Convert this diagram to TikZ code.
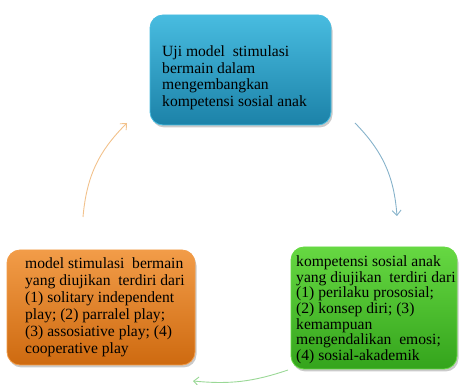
\documentclass[tikz,border=0pt]{standalone}
\usepackage{fontspec}
\setmainfont{Liberation Serif}
\newfontfamily\tnr{Liberation Serif}
\usetikzlibrary{shadows,arrows.meta,calc}
\definecolor{tealA}{HTML}{48BCE0}
\definecolor{tealB}{HTML}{2A9EC6}
\definecolor{tealC}{HTML}{1C82A8}
\definecolor{orA}{HTML}{F29C48}
\definecolor{orB}{HTML}{E8801C}
\definecolor{orC}{HTML}{CE6A10}
\definecolor{grA}{HTML}{66D842}
\definecolor{grB}{HTML}{44C228}
\definecolor{grC}{HTML}{34A41C}
\definecolor{arBlue}{HTML}{86B2CA}
\definecolor{arOrange}{HTML}{F2C28C}
\definecolor{arGreen}{HTML}{9AD896}
\begin{document}
\begin{tikzpicture}[x=1pt,y=-1pt,
  box/.style={rounded corners=13pt, inner sep=0pt,
    drop shadow={shadow xshift=1.5pt, shadow yshift=-2.5pt, opacity=0.35, fill=black!60}},
  tealbox/.style={box, top color=tealA, middle color=tealB, bottom color=tealC, draw=tealA, line width=0.8pt},
  orbox/.style={box, top color=orA, middle color=orB, bottom color=orC, draw=orA, line width=0.8pt},
  grbox/.style={box, top color=grA, middle color=grB, bottom color=grC, draw=grA, line width=0.8pt},
  txt/.style={anchor=north west, inner sep=0pt, align=left, text=black},
  cyc/.style={line width=0.9pt, -{Straight Barb[length=5pt,width=9pt]}}
]
\useasboundingbox (0,0) rectangle (459,385);

\node[tealbox, minimum width=181pt, minimum height=110pt] (top) at (240.5,70) {};
\node[orbox, minimum width=188pt, minimum height=115pt] (left) at (101,307.5) {};
\node[grbox, minimum width=166pt, minimum height=122pt] (right) at (374,308) {};

\node[txt, font=\tnr\fontsize{15.6}{16.7}\selectfont] (toptext) at (162,45.3)
  {Uji model\ \ stimulasi\\bermain dalam\\mengembangkan\\kompetensi sosial anak};
\node[txt, font=\tnr\fontsize{15.6}{17}\selectfont] (lefttext) at (25,257.3)
  {model stimulasi\ \ bermain\\yang diujikan\ \ terdiri dari\\(1) solitary independent\\play; (2) parralel play;\\(3) assosiative play; (4)\\cooperative play};
\node[txt, font=\tnr\fontsize{15.6}{15.7}\selectfont] (righttext) at (296,255.3)
  {kompetensi sosial anak\\yang diujikan\ \ terdiri dari\\(1) perilaku prososial;\\(2) konsep diri; (3)\\kemampuan\\mengendalikan\ \ emosi;\\(4) sosial-akademik};

\coordinate (b1) at (355,123);
\coordinate (b2) at (397,216);
\coordinate (g1) at (288,370);
\coordinate (g2) at (193,381);
\coordinate (o1) at (83,217);
\coordinate (o2) at (127,123);

\draw[cyc, arBlue] (b1) to[bend left=20] (b2);
\draw[cyc, arGreen] (g1) to[bend left=12] (g2);
\draw[cyc, arOrange] (o1) to[bend left=20] (o2);
\end{tikzpicture}
\end{document}
